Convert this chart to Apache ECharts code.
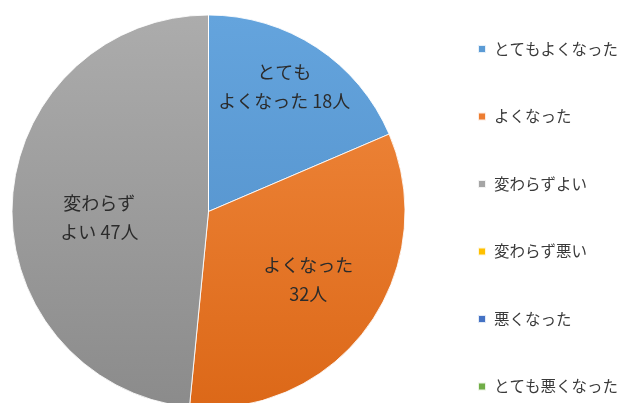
<!DOCTYPE html>
<html>
<head>
<meta charset="utf-8">
<script src="https://cdn.jsdelivr.net/npm/echarts@6/dist/echarts.min.js"></script>
<style>
  html, body { margin: 0; padding: 0; background: #fff; }
  #chart { width: 620px; height: 403px; }
</style>
</head>
<body>
<div id="chart"></div>
<script>
// Survey answers and respondent counts
const categories = ['とてもよくなった', 'よくなった', '変わらずよい', '変わらず悪い', '悪くなった', 'とても悪くなった'];
const counts = [18, 32, 47, 0, 0, 0];
// Wrapped slice-label text shown before each count
const labelNames = ['とても\nよくなった ', 'よくなった\n', '変わらず\nよい ', '', '', ''];
const unit = '人';

// Office-style palette; the filled slices carry a soft top-to-bottom shade
const baseColors = ['#5B9BD5', '#ED7D31', '#A5A5A5', '#FFC000', '#4472C4', '#70AD47'];
const shades = [
  ['#64A4DD', '#4F8CC6'],
  ['#F28B40', '#DC6818'],
  ['#ACACAC', '#8B8B8B'],
  null, null, null
];
const labelOffsets = [[20, -40], [18, 8], [-8, 11], [0, 0], [0, 0], [0, 0]];

const cx = 208.5, cy = 211.5, R = 196.5;

function fillFor(i) {
  const s = shades[i];
  if (!s) return baseColors[i];
  return {
    type: 'linear', global: true,
    x: 0, y: cy - R, x2: 0, y2: cy + R,
    colorStops: [{ offset: 0, color: s[0] }, { offset: 1, color: s[1] }]
  };
}

const seriesData = categories.map((name, i) => ({
  name: name,
  value: counts[i],
  itemStyle: { color: fillFor(i) },
  label: { offset: labelOffsets[i] }
}));

const chart = echarts.init(document.getElementById('chart'), null, { renderer: 'canvas' });
chart.setOption({
  animation: false,
  backgroundColor: '#ffffff',
  textStyle: { fontFamily: '"Noto Sans CJK JP", "Noto Sans", sans-serif' },
  legend: {
    orient: 'vertical',
    left: 477,
    top: 39,
    padding: 0,
    itemWidth: 8,
    itemHeight: 8,
    itemGap: 47.5,
    icon: 'rect',
    selectedMode: false,
    data: categories.map((name, i) => ({ name: name, itemStyle: { color: baseColors[i] } })),
    textStyle: {
      fontFamily: '"Noto Sans CJK JP", sans-serif',
      fontSize: 15.5,
      lineHeight: 20,
      color: '#3a3a3a',
      padding: [0, 0, 0, 3]
    }
  },
  series: [{
    type: 'pie',
    center: [cx, cy],
    radius: R,
    startAngle: 90,
    clockwise: true,
    avoidLabelOverlap: false,
    itemStyle: { borderColor: 'rgba(255,255,255,0.85)', borderWidth: 1 },
    label: {
      show: true,
      position: 'inside',
      fontFamily: '"Noto Sans CJK JP", sans-serif',
      fontSize: 18,
      lineHeight: 29,
      color: '#2b2b2b',
      align: 'center',
      formatter: (p) => p.value > 0 ? labelNames[p.dataIndex] + p.value + unit : ''
    },
    labelLine: { show: false },
    emphasis: { disabled: true },
    data: seriesData
  }]
});
</script>
</body>
</html>
